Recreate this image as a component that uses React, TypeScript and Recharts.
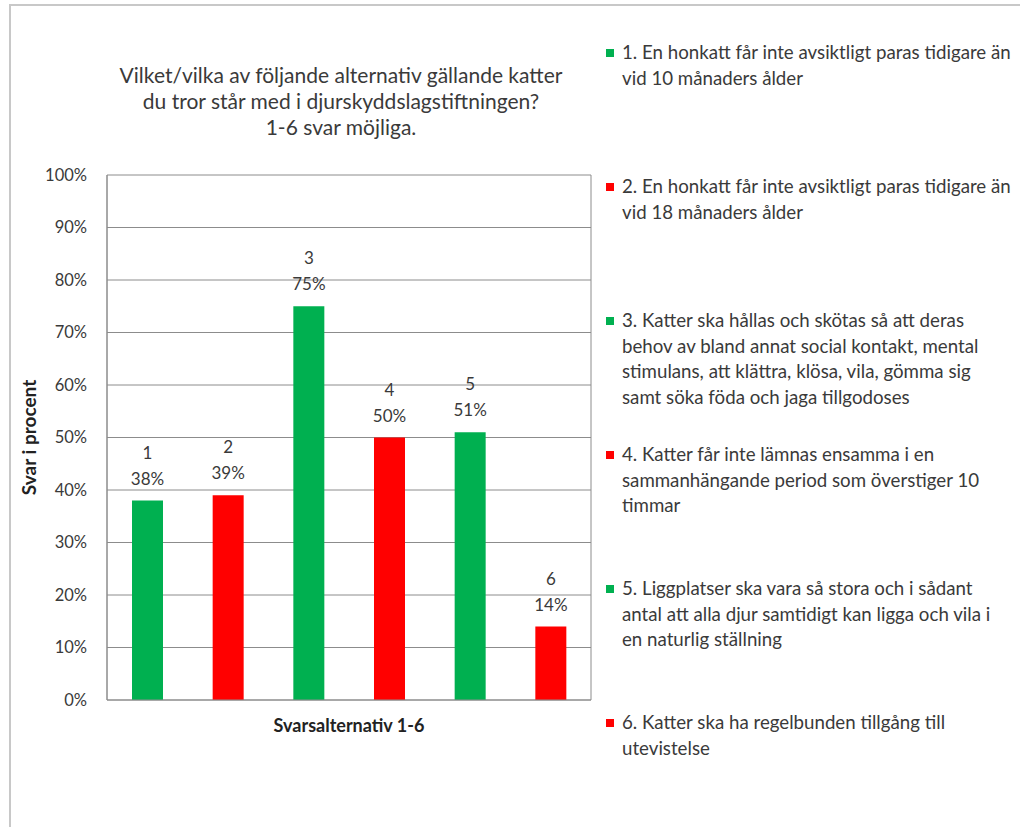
import React from 'react';
import { BarChart, Bar, XAxis, YAxis, CartesianGrid, Cell, LabelList, Legend } from 'recharts';

const categories = ['1', '2', '3', '4', '5', '6'];
const values = [38, 39, 75, 50, 51, 14];
const barColors = ['#00b050', '#ff0000', '#00b050', '#ff0000', '#00b050', '#ff0000'];
const yTicks = [0, 10, 20, 30, 40, 50, 60, 70, 80, 90, 100];

const titleLines = [
  'Vilket/vilka av följande alternativ gällande katter',
  'du tror står med i djurskyddslagstiftningen?',
  '1-6 svar möjliga.',
];

const legendLines = [
  ['1. En honkatt får inte avsiktligt paras tidigare än', 'vid 10 månaders ålder'],
  ['2. En honkatt får inte avsiktligt paras tidigare än', 'vid 18 månaders ålder'],
  [
    '3. Katter ska hållas och skötas så att deras',
    'behov av bland annat social kontakt, mental',
    'stimulans, att klättra, klösa, vila, gömma sig',
    'samt söka föda och jaga tillgodoses',
  ],
  ['4. Katter får inte lämnas ensamma i en', 'sammanhängande period som överstiger 10', 'timmar'],
  ['5. Liggplatser ska vara så stora och i sådant', 'antal att alla djur samtidigt kan ligga och vila i', 'en naturlig ställning'],
  ['6. Katter ska ha regelbunden tillgång till', 'utevistelse'],
];

const data = categories.map((c, i) => ({ name: c, value: values[i] }));

const FONT = 'Lato, "Open Sans", sans-serif';
const TEXT = '#3a3a3a';

const renderBarLabel = (props: any) => {
  const { x, y, width, index } = props;
  const cx = x + width / 2;
  return (
    <g fontFamily={FONT} fontSize={17} fill={TEXT}>
      <text x={cx} y={y - 42} textAnchor="middle">{categories[index]}</text>
      <text x={cx} y={y - 16} textAnchor="middle">{values[index]}%</text>
    </g>
  );
};

const renderLegend = () => (
  <div style={{ position: 'relative', height: 0, fontFamily: FONT, fontSize: 18.7, color: TEXT }}>
    {legendLines.map((lines, i) => (
      <div key={i} style={{ position: 'absolute', top: i * 134, left: 0, display: 'flex' }}>
        <div style={{ width: 8, height: 8, flex: 'none', background: barColors[i], marginTop: 9, marginRight: 8 }} />
        <div style={{ lineHeight: '25.5px' }}>
          {lines.map((l, j) => (
            <div key={j} style={{ whiteSpace: 'nowrap' }}>{l}</div>
          ))}
        </div>
      </div>
    ))}
  </div>
);

const App = () => {
  return (
    <div style={{ position: 'absolute', left: 0, top: 0, width: 1020, height: 827, background: '#fff', overflow: 'hidden' }}>
      <div style={{ position: 'absolute', left: 9, top: 4, width: 1020, height: 840, border: '2px solid #c8c8c8' }} />
      <div
        style={{
          position: 'absolute', left: 41, top: 62, width: 600, textAlign: 'center',
          fontFamily: FONT, fontSize: 21, lineHeight: '26px', color: TEXT,
        }}
      >
        {titleLines.map((t, i) => (
          <div key={i}>{t}</div>
        ))}
      </div>
      <BarChart width={1020} height={827} data={data} margin={{ top: 175, right: 429, bottom: 87, left: 0 }}>
        <CartesianGrid
          stroke="#8c8c8c"
          horizontal={true}
          verticalCoordinatesGenerator={({ offset }: any) => [offset.left, offset.left + offset.width]}
        />
        <XAxis
          dataKey="name"
          tick={false}
          tickLine={false}
          height={40}
          axisLine={{ stroke: '#8c8c8c' }}
          label={{
            position: 'insideBottom',
            content: ({ viewBox }: any) => (
              <text
                x={viewBox.x + viewBox.width / 2}
                y={viewBox.y + 32}
                textAnchor="middle"
                fontFamily={FONT}
                fontSize={18}
                fontWeight="bold"
                fill="#222"
              >
                Svarsalternativ 1-6
              </text>
            ),
          }}
        />
        <YAxis
          width={107}
          domain={[0, 100]}
          ticks={yTicks}
          interval={0}
          tickFormatter={(v: number) => `${v}%`}
          tickLine={false}
          tickSize={0}
          tickMargin={20}
          axisLine={{ stroke: '#8c8c8c' }}
          tick={{ fontFamily: FONT, fontSize: 16.5, fill: TEXT }}
          label={{
            position: 'insideLeft',
            content: ({ viewBox }: any) => {
              const lx = 28;
              const ly = viewBox.y + viewBox.height / 2;
              return (
                <text
                  x={lx}
                  y={ly}
                  transform={`rotate(-90 ${lx} ${ly})`}
                  textAnchor="middle"
                  dominantBaseline="central"
                  fontFamily={FONT}
                  fontSize={19}
                  fontWeight="bold"
                  fill="#222"
                >
                  Svar i procent
                </text>
              );
            },
          }}
        />
        <Legend
          content={renderLegend}
          wrapperStyle={{ position: 'absolute', left: 606, top: 40, width: 414 }}
        />
        <Bar dataKey="value" barSize={31} isAnimationActive={false}>
          {data.map((d, i) => (
            <Cell key={d.name} fill={barColors[i]} />
          ))}
          <LabelList dataKey="value" content={renderBarLabel} />
        </Bar>
      </BarChart>
    </div>
  );
};

export default App;
